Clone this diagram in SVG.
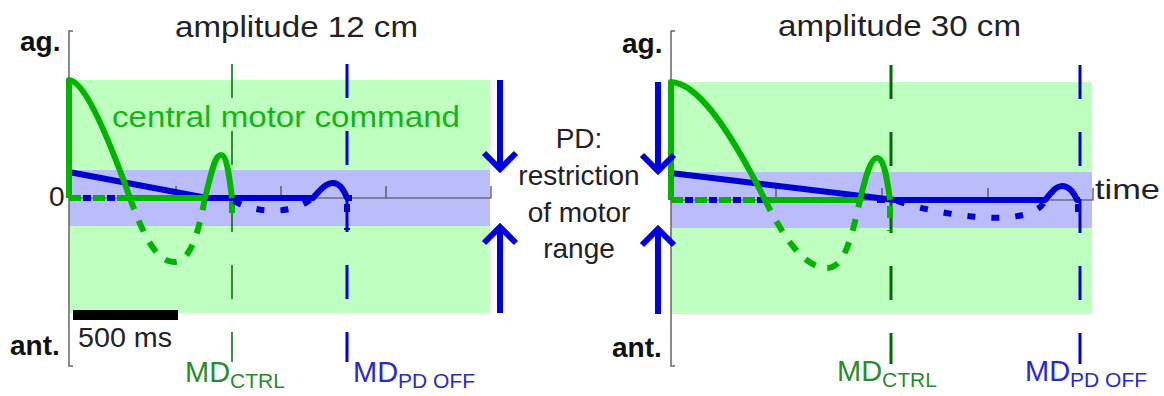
<svg xmlns="http://www.w3.org/2000/svg" width="1164" height="396" viewBox="0 0 1164 396">
<style>
text{font-family:"Liberation Sans",Arial,sans-serif;fill:#222}
.b{font-weight:bold;fill:#111}
.zone{fill:#bfffbf}
.band{fill:#bbbdfa}
.axis{fill:none;stroke:#666;stroke-width:1.5}
.tick{fill:none;stroke:#444;stroke-width:1.2}
.gs{fill:none;stroke:#00b400;stroke-width:6;stroke-linejoin:round}
.gd{fill:none;stroke:#00b400;stroke-width:6;stroke-dasharray:12 12}
.bs{fill:none;stroke:#0000d0;stroke-width:6;stroke-linejoin:round}
.bd{fill:none;stroke:#0000d0;stroke-width:6;stroke-dasharray:8 16}
.mdg{fill:none;stroke:#006a00;stroke-dasharray:34 33}
.mdb{fill:none;stroke:#0000d0;stroke-width:3;stroke-dasharray:34 33}
.arr{fill:none;stroke:#0000e0;stroke-width:6}
.lg{fill:#2a8c2a}
.lb{fill:#2a2acc}
</style>

<g id="panel-left">
  <rect class="zone" x="69" y="80" width="421" height="233"/>
  <rect class="band" x="69" y="170" width="421" height="56"/>
  <path class="axis" d="M73,31 H69 V366 H73"/>
  <path class="tick" d="M69,198 H491 V186 M176,198 V186 M281,198 V186 M386,198 V186"/>
  <text class="b" x="20" y="51" font-size="28">ag.</text>
  <text class="b" x="10" y="355" font-size="28">ant.</text>
  <text x="49" y="206" font-size="28">0</text>
  <text x="175" y="37" font-size="30" textLength="243" lengthAdjust="spacingAndGlyphs">amplitude 12 cm</text>
  <text x="112" y="127" font-size="30" textLength="348" lengthAdjust="spacingAndGlyphs" style="fill:#14b414">central motor command</text>
  <rect x="73" y="310" width="105" height="10" fill="#000"/>
  <text x="78" y="347" font-size="27" textLength="94" lengthAdjust="spacingAndGlyphs">500 ms</text>
</g>

<g id="panel-right">
  <rect class="zone" x="671" y="82" width="421" height="232"/>
  <rect class="band" x="671" y="172" width="421" height="56"/>
  <path class="axis" d="M675,31 H671 V366 H675"/>
  <path class="tick" d="M671,200 H1093 V188 M776,200 V188 M882,200 V188 M988,200 V188"/>
  <text class="b" x="622" y="53" font-size="28">ag.</text>
  <text class="b" x="612" y="357" font-size="28">ant.</text>
  <text x="778" y="36" font-size="30" textLength="243" lengthAdjust="spacingAndGlyphs">amplitude 30 cm</text>
  <text x="1095" y="199" font-size="28" textLength="65" lengthAdjust="spacingAndGlyphs">time</text>
</g>

<g id="md-lines">
  <path class="mdg" stroke-width="1.5" d="M232,64 V362"/>
  <path class="mdb" d="M347,64 V362"/>
  <path class="mdg" stroke-width="3" d="M891,65 V364"/>
  <path class="mdb" d="M1080,65 V364"/>
  <text class="lg" x="185" y="382" font-size="29">MD<tspan dy="6" font-size="21">CTRL</tspan></text>
  <text class="lb" x="353" y="382" font-size="29">MD<tspan dy="6" font-size="21">PD OFF</tspan></text>
  <text class="lg" x="837" y="381" font-size="29">MD<tspan dy="6" font-size="21">CTRL</tspan></text>
  <text class="lb" x="1025" y="381" font-size="29">MD<tspan dy="6" font-size="21">PD OFF</tspan></text>
</g>

<g id="curves-left">
  <path class="gd" d="M69,198 H130"/>
  <path class="bd" stroke-dashoffset="-14" d="M69,198 H207"/>
  <path class="gd" stroke-dasharray="11 6" d="M130,198 C145,240 158,262 174,262 C190,262 198,235 205,198"/>
  <path class="gd" stroke-dasharray="22 0" d="M232,201 V222"/>
  <path class="bd" stroke-dasharray="10 6" d="M234,201 C252,212 290,216 310,200"/>
  <path class="bd" stroke-dasharray="26 0" d="M347,204 V230"/>
  <path class="bs" d="M69,198 V172 L207,198 H313 C320,190 326,183 333,183 C340,183 344,190 347,198 H352"/>
  <path class="gs" d="M69,198 V80 C80,81 98,108 130,198 H205 C212,170 215,155 221,155 C227,155 229,175 232,198"/>
</g>

<g id="curves-right">
  <path class="gd" d="M671,200 H765"/>
  <path class="bd" stroke-dashoffset="-14" d="M671,200 H895"/>
  <path class="gd" stroke-dasharray="11 6" d="M765,200 C785,240 805,268 827,268 C845,268 852,235 860,200"/>
  <path class="gd" stroke-dasharray="22 0" d="M890,206 V231"/>
  <path class="bd" stroke-dasharray="10 6" d="M897,201 C940,215 990,220 1010,217 C1030,215 1040,210 1045,201"/>
  <path class="bd" stroke-dasharray="24 0" d="M1078,204 V228"/>
  <path class="bs" d="M671,200 V173 L895,200 H1045 C1052,192 1056,186 1062,186 C1069,186 1074,193 1077,200 H1080"/>
  <path class="gs" d="M671,200 V82 C695,83 725,120 765,200 H860 C866,175 871,158 877,158 C884,158 887,178 890,200"/>
</g>

<g id="pd-restriction">
  <path class="arr" d="M500,80 V166 M484,153 L500,169 L516,153"/>
  <path class="arr" d="M500,313 V230 M484,243 L500,227 L516,243"/>
  <path class="arr" d="M658,82 V168 M642,155 L658,171 L674,155"/>
  <path class="arr" d="M658,314 V232 M642,245 L658,229 L674,245"/>
  <text x="579" y="148" font-size="28" text-anchor="middle">PD:</text>
  <text x="579" y="185" font-size="28" text-anchor="middle">restriction</text>
  <text x="579" y="222" font-size="28" text-anchor="middle">of motor</text>
  <text x="579" y="258" font-size="28" text-anchor="middle">range</text>
</g>
</svg>
